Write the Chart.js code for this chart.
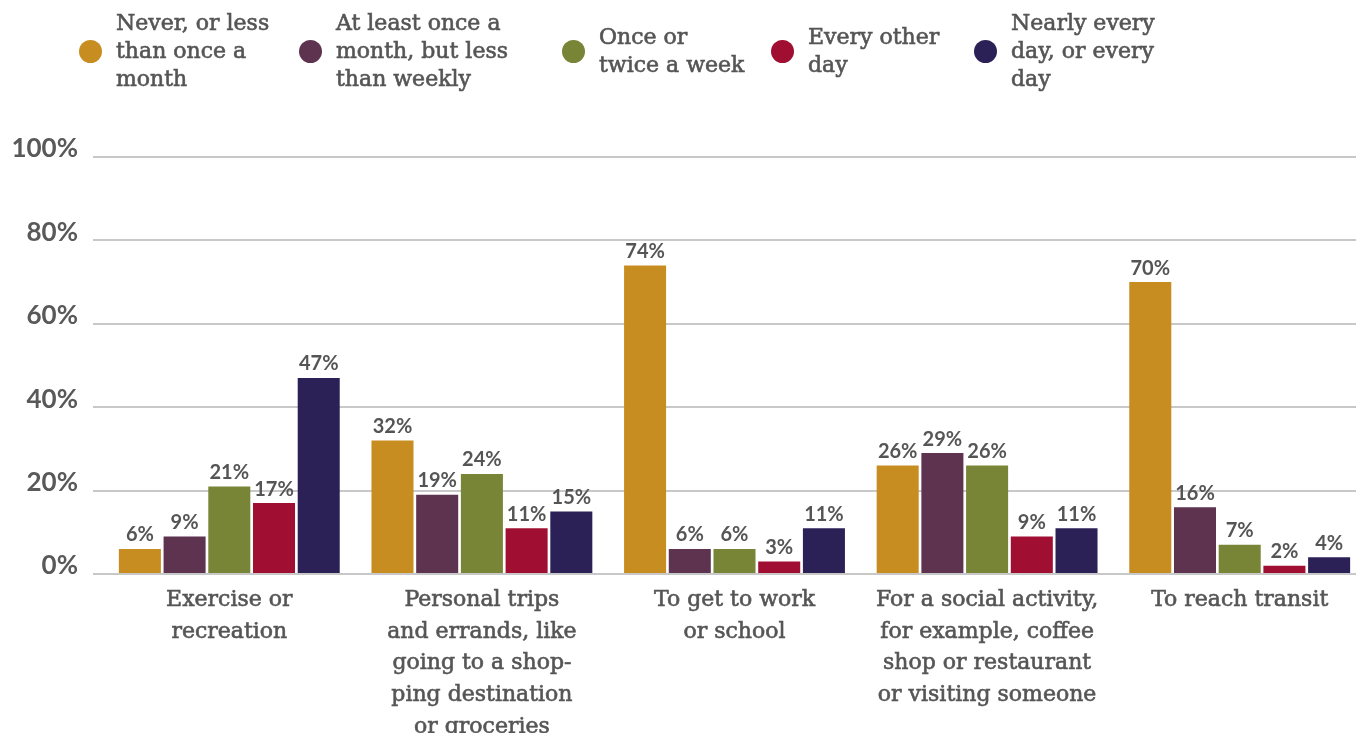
<!DOCTYPE html>
<html>
<head>
<meta charset="utf-8">
<script src="https://cdn.jsdelivr.net/npm/chart.js@4.4.1/dist/chart.umd.min.js"></script>
<style>
  html, body { margin: 0; padding: 0; background: #fff; }
  #wrap { position: relative; width: 1356px; height: 733px; overflow: hidden; }
  #chart { position: absolute; left: 0; top: 0; }
  #legend { position: absolute; left: 0; top: 0; width: 1356px; height: 102px; }
  .item { position: absolute; top: 0; height: 102px; display: flex; align-items: center; }
  .dot { width: 23px; height: 23px; border-radius: 50%; margin-right: 14px; flex: none; }
  .txt {
    font: 22px "DejaVu Serif", serif; line-height: 28px; color: #555; white-space: pre;
    -webkit-text-stroke: 0.6px #555;
  }
</style>
</head>
<body>
<div id="wrap">
  <canvas id="chart" width="1366" height="733"></canvas>
  <div id="legend"></div>
</div>
<script>
const categories = [
  ["Exercise or", "recreation"],
  ["Personal trips", "and errands, like", "going to a shop-", "ping destination", "or groceries"],
  ["To get to work", "or school"],
  ["For a social activity,", "for example, coffee", "shop or restaurant", "or visiting someone"],
  ["To reach transit"]
];

const seriesNames = [
  ["Never, or less", "than once a", "month"],
  ["At least once a", "month, but less", "than weekly"],
  ["Once or", "twice a week"],
  ["Every other", "day"],
  ["Nearly every", "day, or every", "day"]
];

const never = [6, 32, 74, 26, 70];
const monthly = [9, 19, 6, 29, 16];
const weekly = [21, 24, 6, 26, 7];
const everyOther = [17, 11, 3, 9, 2];
const daily = [47, 15, 11, 11, 4];

const yTicks = [0, 20, 40, 60, 80, 100];

const colors = ["#c78d20", "#5e3350", "#788536", "#a00f32", "#2c2157"];
const values = [never, monthly, weekly, everyOther, daily];

// legend, laid out by hand across the top
const legendLeft = [79, 299, 562, 771, 974];
const legend = document.getElementById("legend");
seriesNames.forEach((lines, i) => {
  const item = document.createElement("div");
  item.className = "item";
  item.style.left = legendLeft[i] + "px";
  const dot = document.createElement("div");
  dot.className = "dot";
  dot.style.background = colors[i];
  const txt = document.createElement("div");
  txt.className = "txt";
  txt.textContent = lines.join("\n");
  item.appendChild(dot);
  item.appendChild(txt);
  legend.appendChild(item);
});

const valueLabels = {
  id: "valueLabels",
  afterDatasetsDraw(chart) {
    const ctx = chart.ctx;
    ctx.save();
    ctx.font = "bold 20px Lato";
    ctx.fillStyle = "#555";
    ctx.textAlign = "center";
    ctx.textBaseline = "bottom";
    chart.data.datasets.forEach((ds, i) => {
      chart.getDatasetMeta(i).data.forEach((bar, j) => {
        ctx.fillText(ds.data[j] + "%", bar.x, bar.y - 4);
      });
    });
    ctx.restore();
  }
};

new Chart(document.getElementById("chart"), {
  type: "bar",
  data: {
    labels: categories,
    datasets: values.map((v, i) => ({
      label: seriesNames[i].join(" "),
      data: v,
      backgroundColor: colors[i],
      barPercentage: 0.94,
      categoryPercentage: 0.885
    }))
  },
  options: {
    responsive: false,
    animation: false,
    layout: { padding: { top: 157, left: 0, right: 0, bottom: 0 } },
    plugins: { legend: { display: false }, tooltip: { enabled: false } },
    scales: {
      x: {
        grid: { display: false, drawTicks: false },
        border: { display: false },
        ticks: {
          color: "#555",
          textStrokeColor: "#555",
          textStrokeWidth: 0.6,
          font: { family: "DejaVu Serif", size: 22, lineHeight: 1.45 },
          padding: 10,
          maxRotation: 0,
          autoSkip: false
        },
        afterFit(scale) { scale.height = 159; }
      },
      y: {
        min: 0,
        max: 100,
        afterBuildTicks(scale) { scale.ticks = yTicks.map(v => ({ value: v })); },
        grid: { color: "#c8c8c8", lineWidth: 2, tickLength: 10 },
        border: { display: false },
        ticks: {
          color: "#595959",
          font: { family: "Lato", size: 26, weight: "bold" },
          padding: 15,
          labelOffset: -8,
          callback: v => v + "%"
        },
        afterFit(scale) { scale.width = 103; }
      }
    }
  },
  plugins: [valueLabels]
});
</script>
</body>
</html>
